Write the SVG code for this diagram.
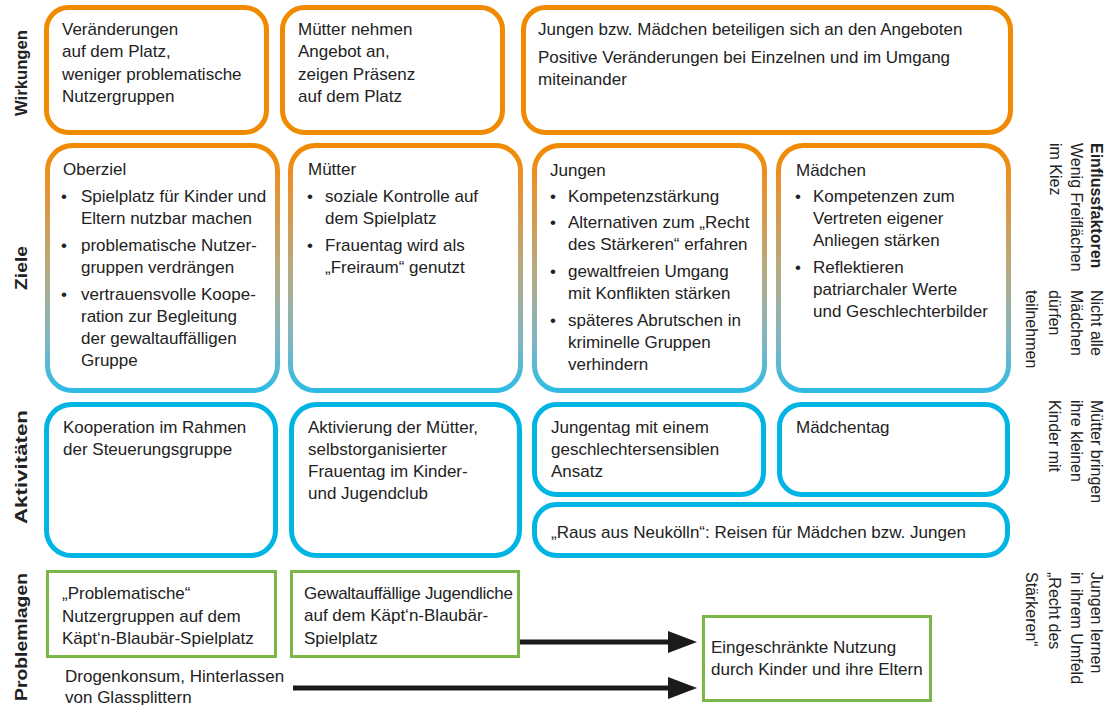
<svg xmlns="http://www.w3.org/2000/svg" width="1111" height="705" viewBox="0 0 1111 705">
<defs>
<linearGradient id="gz" x1="0" y1="0" x2="0" y2="1">
<stop offset="0" stop-color="#F08A00"/>
<stop offset="0.15" stop-color="#E9912E"/>
<stop offset="0.5" stop-color="#B6AA80"/>
<stop offset="0.8" stop-color="#80B6C2"/>
<stop offset="1" stop-color="#2FBBE4"/>
</linearGradient>
<style>
.t{font-family:"Liberation Sans",Arial,sans-serif;font-size:17px;fill:#222}
.s{font-family:"Liberation Sans",Arial,sans-serif;font-size:16px;fill:#222}
.b{font-weight:bold}
.lab{font-family:"Liberation Sans",Arial,sans-serif;font-size:17px;font-weight:bold;fill:#222;text-anchor:middle}
.o{fill:#fff;stroke:#F08A00;stroke-width:5}
.z{fill:#fff;stroke:url(#gz);stroke-width:5}
.c{fill:#fff;stroke:#00B4E4;stroke-width:5}
.g{fill:#fff;stroke:#7AB648;stroke-width:3}
.ar{stroke:#1a1a1a;stroke-width:5;fill:none}
.ah{fill:#1a1a1a}
</style>
</defs>
<rect width="1111" height="705" fill="#fff"/>

<g id="labels">
<text class="lab" transform="translate(27,73) rotate(-90)" textLength="86" lengthAdjust="spacingAndGlyphs">Wirkungen</text>
<text class="lab" transform="translate(27,268) rotate(-90)" textLength="44" lengthAdjust="spacingAndGlyphs">Ziele</text>
<text class="lab" transform="translate(27,467) rotate(-90)" textLength="114" lengthAdjust="spacingAndGlyphs">Aktivitäten</text>
<text class="lab" transform="translate(27,637) rotate(-90)" textLength="128" lengthAdjust="spacingAndGlyphs">Problemlagen</text>
</g>

<g id="w1"><rect class="o" x="46.5" y="7.5" width="220" height="125" rx="22"/>
<text class="t"><tspan x="62" y="35">Veränderungen</tspan><tspan x="62" y="57">auf dem Platz,</tspan><tspan x="62" y="79.5">weniger problematische</tspan><tspan x="62" y="101.5">Nutzergruppen</tspan></text></g>
<g id="w2"><rect class="o" x="282.5" y="7.5" width="220" height="125" rx="22"/>
<text class="t"><tspan x="298" y="35">Mütter nehmen</tspan><tspan x="298" y="57">Angebot an,</tspan><tspan x="298" y="79.5">zeigen Präsenz</tspan><tspan x="298" y="101.5">auf dem Platz</tspan></text></g>
<g id="w3"><rect class="o" x="523.5" y="7.5" width="487" height="125" rx="22"/>
<text class="t"><tspan x="538" y="35">Jungen bzw. Mädchen beteiligen sich an den Angeboten</tspan><tspan x="538" y="63">Positive Veränderungen bei Einzelnen und im Umgang</tspan><tspan x="538" y="85">miteinander</tspan></text></g>

<g id="z1"><rect class="z" x="47.5" y="145.5" width="230" height="245" rx="25"/>
<text class="t"><tspan x="63" y="175">Oberziel</tspan>
<tspan x="61" y="202">•</tspan><tspan x="81" y="202">Spielplatz für Kinder und</tspan><tspan x="81" y="224">Eltern nutzbar machen</tspan>
<tspan x="61" y="251">•</tspan><tspan x="81" y="251">problematische Nutzer-</tspan><tspan x="81" y="273">gruppen verdrängen</tspan>
<tspan x="61" y="300">•</tspan><tspan x="81" y="300">vertrauensvolle Koope-</tspan><tspan x="81" y="322">ration zur Begleitung</tspan><tspan x="81" y="344">der gewaltauffälligen</tspan><tspan x="81" y="366">Gruppe</tspan></text></g>
<g id="z2"><rect class="z" x="290.5" y="145.5" width="230" height="245" rx="25"/>
<text class="t"><tspan x="308" y="175">Mütter</tspan>
<tspan x="307" y="202">•</tspan><tspan x="325" y="202">soziale Kontrolle auf</tspan><tspan x="325" y="224">dem Spielplatz</tspan>
<tspan x="307" y="251">•</tspan><tspan x="325" y="251">Frauentag wird als</tspan><tspan x="325" y="273">„Freiraum“ genutzt</tspan></text></g>
<g id="z3"><rect class="z" x="534.5" y="145.5" width="230" height="245" rx="25"/>
<text class="t"><tspan x="550" y="176">Jungen</tspan>
<tspan x="550" y="202">•</tspan><tspan x="568" y="202">Kompetenzstärkung</tspan>
<tspan x="550" y="228">•</tspan><tspan x="568" y="228">Alternativen zum „Recht</tspan><tspan x="568" y="250">des Stärkeren“ erfahren</tspan>
<tspan x="550" y="277">•</tspan><tspan x="568" y="277">gewaltfreien Umgang</tspan><tspan x="568" y="299">mit Konflikten stärken</tspan>
<tspan x="550" y="326">•</tspan><tspan x="568" y="326">späteres Abrutschen in</tspan><tspan x="568" y="348">kriminelle Gruppen</tspan><tspan x="568" y="370">verhindern</tspan></text></g>
<g id="z4"><rect class="z" x="778.5" y="145.5" width="230" height="245" rx="25"/>
<text class="t"><tspan x="796" y="176">Mädchen</tspan>
<tspan x="795" y="202">•</tspan><tspan x="813" y="202">Kompetenzen zum</tspan><tspan x="813" y="224">Vertreten eigener</tspan><tspan x="813" y="246">Anliegen stärken</tspan>
<tspan x="795" y="273">•</tspan><tspan x="813" y="273">Reflektieren</tspan><tspan x="813" y="295">patriarchaler Werte</tspan><tspan x="813" y="317">und Geschlechterbilder</tspan></text></g>

<g id="a1"><rect class="c" x="46.5" y="404.5" width="229" height="151" rx="25"/>
<text class="t"><tspan x="63" y="433">Kooperation im Rahmen</tspan><tspan x="63" y="455">der Steuerungsgruppe</tspan></text></g>
<g id="a2"><rect class="c" x="291.5" y="404.5" width="228" height="151" rx="25"/>
<text class="t"><tspan x="308" y="433">Aktivierung der Mütter,</tspan><tspan x="308" y="455">selbstorganisierter</tspan><tspan x="308" y="477">Frauentag im Kinder-</tspan><tspan x="308" y="499">und Jugendclub</tspan></text></g>
<g id="a3"><rect class="c" x="534.5" y="404.5" width="229" height="90" rx="22"/>
<text class="t"><tspan x="551" y="433">Jungentag mit einem</tspan><tspan x="551" y="455">geschlechtersensiblen</tspan><tspan x="551" y="477">Ansatz</tspan></text></g>
<g id="a4"><rect class="c" x="779.5" y="404.5" width="228" height="90" rx="22"/>
<text class="t" x="796" y="433">Mädchentag</text></g>
<g id="a5"><rect class="c" x="534.5" y="504.5" width="473" height="51" rx="22"/>
<text class="t" x="551" y="538">„Raus aus Neukölln“: Reisen für Mädchen bzw. Jungen</text></g>

<g id="p1"><rect class="g" x="47.5" y="571.5" width="228" height="85"/>
<text class="t"><tspan x="62" y="599">„Problematische“</tspan><tspan x="62" y="622">Nutzergruppen auf dem</tspan><tspan x="62" y="644">Käpt‘n-Blaubär-Spielplatz</tspan></text></g>
<g id="p2"><rect class="g" x="291.5" y="571.5" width="227" height="85"/>
<text class="t"><tspan x="304" y="599" textLength="209">Gewaltauffällige Jugendliche</tspan><tspan x="304" y="621">auf dem Käpt‘n-Blaubär-</tspan><tspan x="304" y="644">Spielplatz</tspan></text></g>
<g id="p3">
<text class="t"><tspan x="65" y="682">Drogenkonsum, Hinterlassen</tspan><tspan x="65" y="703">von Glassplittern</tspan></text></g>
<g id="p4"><rect class="g" x="703.5" y="616.5" width="227" height="84"/>
<text class="t"><tspan x="711" y="653">Eingeschränkte Nutzung</tspan><tspan x="711" y="675">durch Kinder und ihre Eltern</tspan></text></g>

<g id="connectors">
<line class="ar" x1="520" y1="642" x2="672" y2="642"/>
<polygon class="ah" points="668,631 697,642 668,653"/>
<line class="ar" x1="293" y1="688" x2="672" y2="688"/>
<polygon class="ah" points="668,677 697,688 668,699"/>
</g>

<g id="einfluss">
<text class="s b" transform="translate(1091,143) rotate(90)">Einflussfaktoren</text>
<text class="s" transform="translate(1071,143) rotate(90)">Wenig Freiflächen</text>
<text class="s" transform="translate(1050,143) rotate(90)">im Kiez</text>
<text class="s" transform="translate(1091,290) rotate(90)">Nicht alle</text>
<text class="s" transform="translate(1071,290) rotate(90)">Mädchen</text>
<text class="s" transform="translate(1049,290) rotate(90)">dürfen</text>
<text class="s" transform="translate(1026,290) rotate(90)">teilnehmen</text>
<text class="s" transform="translate(1091,400) rotate(90)">Mütter bringen</text>
<text class="s" transform="translate(1071,400) rotate(90)">ihre kleinen</text>
<text class="s" transform="translate(1049,400) rotate(90)">Kinder mit</text>
<text class="s" transform="translate(1091,572) rotate(90)">Jungen lernen</text>
<text class="s" transform="translate(1071,572) rotate(90)">in ihrem Umfeld</text>
<text class="s" transform="translate(1049,572) rotate(90)">„Recht des</text>
<text class="s" transform="translate(1026,572) rotate(90)">Stärkeren“</text>
</g>
</svg>
